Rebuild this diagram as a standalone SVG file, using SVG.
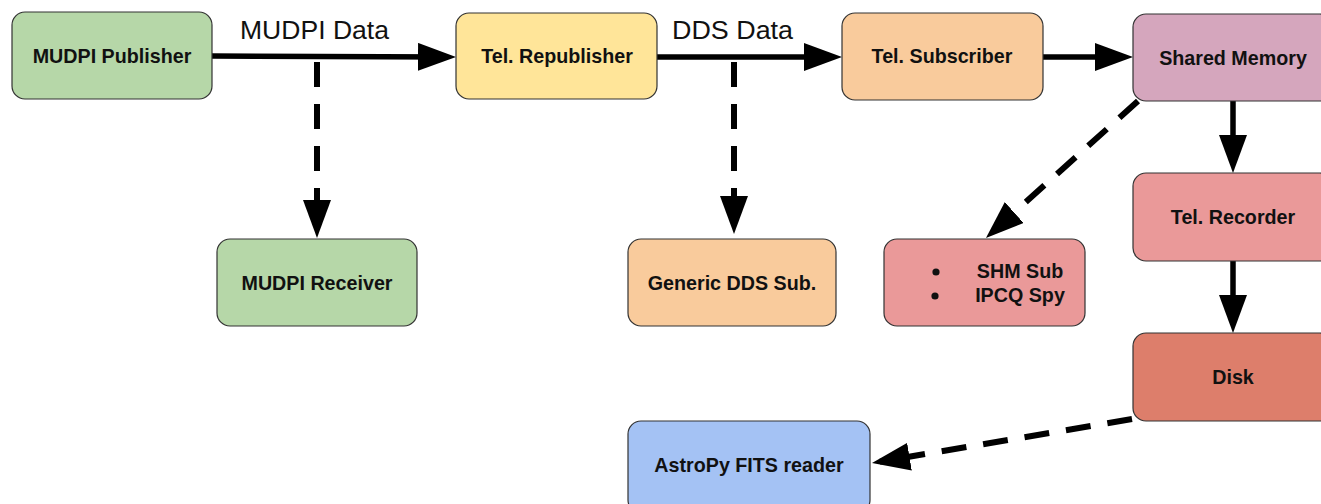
<svg xmlns="http://www.w3.org/2000/svg" width="1321" height="504" viewBox="0 0 1321 504">
  <style>
    .box { stroke: #333333; stroke-width: 1.2; }
    .lbl { font-family: "Liberation Sans", Arial, sans-serif; font-weight: bold; font-size: 19.7px; fill: #111111; text-anchor: middle; }
    .edge-lbl { font-family: "Liberation Sans", Arial, sans-serif; font-size: 25px; fill: #111111; }
    .solid { fill: none; stroke: #000000; stroke-width: 5.5; marker-end: url(#head); }
    .dashed { fill: none; stroke: #000000; stroke-width: 6; stroke-dasharray: 25 17; marker-end: url(#head); }
  </style>
  <defs>
    <!-- arrowhead: tip sits 8px past the path end so the line cap stays hidden -->
    <marker id="head" markerUnits="userSpaceOnUse" markerWidth="38" markerHeight="28" refX="30" refY="14" orient="auto">
      <path d="M0,0 L38,14 L0,28 Z" fill="#000000"/>
    </marker>
  </defs>
  <rect width="1321" height="504" fill="#ffffff"/>

  <!-- connectors -->
  <g id="connectors">
    <path class="solid" d="M212,56 L448,57"/>
    <path class="dashed" d="M317,62 L317,230"/>
    <path class="solid" d="M657,57 L834,57"/>
    <path class="dashed" d="M734,62 L734,226"/>
    <path class="solid" d="M1043,57 L1125,57"/>
    <path class="solid" d="M1233,101 L1233,165"/>
    <path class="solid" d="M1233,261 L1233,325"/>
    <path class="dashed" d="M1138,101 L991.9,232.6"/>
    <path class="dashed" d="M1132,419 L879.9,461.7"/>
    <text class="edge-lbl" x="240" y="39" textLength="149" lengthAdjust="spacingAndGlyphs">MUDPI Data</text>
    <text class="edge-lbl" x="672" y="39" textLength="121" lengthAdjust="spacingAndGlyphs">DDS Data</text>
  </g>

  <!-- nodes -->
  <g id="mudpi-publisher">
    <rect class="box" x="12" y="12" width="200" height="87" rx="13" fill="#b6d7a8"/>
    <text class="lbl" x="112" y="63">MUDPI Publisher</text>
  </g>
  <g id="tel-republisher">
    <rect class="box" x="456" y="13" width="201" height="86" rx="13" fill="#ffe599"/>
    <text class="lbl" x="557" y="63">Tel. Republisher</text>
  </g>
  <g id="tel-subscriber">
    <rect class="box" x="842" y="13" width="201" height="87" rx="13" fill="#f9cb9c"/>
    <text class="lbl" x="942" y="63">Tel. Subscriber</text>
  </g>
  <g id="shared-memory">
    <rect class="box" x="1133" y="14" width="200" height="87" rx="13" fill="#d5a6bd"/>
    <text class="lbl" x="1233" y="65">Shared Memory</text>
  </g>
  <g id="mudpi-receiver">
    <rect class="box" x="217" y="239" width="200" height="87" rx="13" fill="#b6d7a8"/>
    <text class="lbl" x="317" y="290">MUDPI Receiver</text>
  </g>
  <g id="generic-dds-sub">
    <rect class="box" x="628" y="239" width="208" height="87" rx="13" fill="#f9cb9c"/>
    <text class="lbl" x="732" y="290">Generic DDS Sub.</text>
  </g>
  <g id="shm-readers">
    <rect class="box" x="884" y="239" width="201" height="87" rx="13" fill="#ea9999"/>
    <circle cx="936" cy="272" r="3.6" fill="#111111"/>
    <circle cx="935" cy="296" r="3.6" fill="#111111"/>
    <text class="lbl" x="1020" y="278">SHM Sub</text>
    <text class="lbl" x="1020" y="302">IPCQ Spy</text>
  </g>
  <g id="tel-recorder">
    <rect class="box" x="1133" y="173" width="200" height="88" rx="13" fill="#ea9999"/>
    <text class="lbl" x="1233" y="224">Tel. Recorder</text>
  </g>
  <g id="disk">
    <rect class="box" x="1133" y="333" width="200" height="88" rx="13" fill="#dd7e6b"/>
    <text class="lbl" x="1233" y="384">Disk</text>
  </g>
  <g id="astropy-fits-reader">
    <rect class="box" x="628" y="421" width="242" height="92" rx="13" fill="#a4c2f4"/>
    <text class="lbl" x="749" y="472">AstroPy FITS reader</text>
  </g>
</svg>
